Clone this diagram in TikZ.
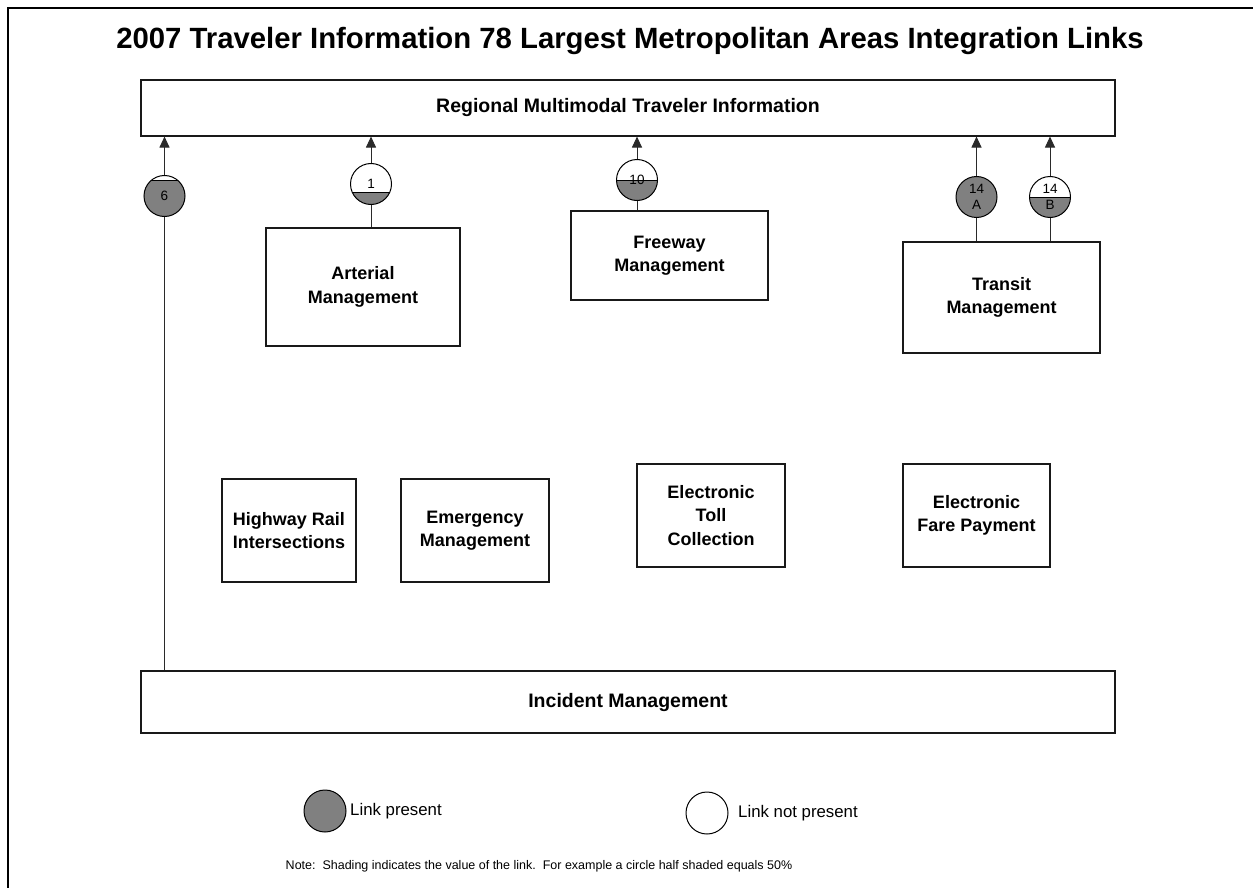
\documentclass[tikz,border=0pt]{standalone}
\usepackage{fontspec}
\setmainfont{Liberation Sans}
\usetikzlibrary{arrows.meta,calc}
\definecolor{linkgray}{HTML}{808080}
\definecolor{edge}{HTML}{2A2A2A}

% A link circle, shaded from the bottom up to the given fraction
% #1 name, #2 x, #3 y, #4 shaded fraction, #5 label
\newcommand\linkgauge[5]{%
  \begin{scope}
    \clip (#2,#3) circle (20.5);
    \fill[linkgray] (#2-22,{#3+20.5-41*#4}) rectangle (#2+22,#3+22);
    \draw[line width=0.9pt] (#2-22,{#3+20.5-41*#4}) -- (#2+22,{#3+20.5-41*#4});
  \end{scope}
  \node[gauge] (#1) at (#2,#3) {#5};
}

\begin{document}
\begin{tikzpicture}[x=1pt,y=-1pt,
  box/.style={draw=black!90, line width=1.1pt, fill=white, align=center,
    inner sep=0pt, font=\bfseries\fontsize{18}{23.5}\selectfont},
  wide/.style={box, minimum width=974, font=\bfseries\fontsize{19.5}{22}\selectfont},
  gauge/.style={circle, draw=black, line width=1pt, minimum size=41, inner sep=0pt,
    align=center, font=\fontsize{13.5}{16.5}\selectfont},
  link/.style={draw=edge, line width=1pt},
  arr/.style={link, -{Triangle[length=11pt,width=10pt]}},
  legendtxt/.style={anchor=west, inner sep=0pt, font=\fontsize{16.8}{19}\selectfont}]

\useasboundingbox (0,0) rectangle (1253,888);
\fill[white] (0,0) rectangle (1253,888);

% page frame
\draw[line width=2.2pt] (8,888) -- (8,8) -- (1253,8);

% title
\node[font=\bfseries\fontsize{29.3}{34}\selectfont] (title) at (630,41)
  {2007 Traveler Information 78 Largest Metropolitan Areas Integration Links};

% systems
\node[wide, minimum height=56] (reg) at (628,108) {Regional Multimodal Traveler Information};
\node[box, minimum width=194, minimum height=118] (art) at (363,287) {Arterial\\Management};
\node[box, minimum width=197, minimum height=89] (fw) at (669.5,255.5) {Freeway\\Management};
\node[box, minimum width=197, minimum height=111] (tr) at (1001.5,297.5) {Transit\\Management};
\node[box, minimum width=134, minimum height=103] (hri) at (289,530.5) {Highway Rail\\Intersections};
\node[box, minimum width=148, minimum height=103] (em) at (475,530.5) {Emergency\\Management};
\node[box, minimum width=148, minimum height=103] (etc) at (711,515.5) {Electronic\\Toll\\Collection};
\node[box, minimum width=147, minimum height=103] (efp) at (976.5,515.5) {Electronic\\Fare Payment};
\node[wide, minimum height=62] (inc) at (628,702) {Incident Management};

% integration links
\linkgauge{c6}{164.5}{196}{0.88}{6}
\linkgauge{c1}{371}{184}{0.3}{1}
\linkgauge{c10}{637}{180}{0.5}{10}
\linkgauge{c14a}{976.5}{197}{1}{14\\A}
\linkgauge{c14b}{1050}{197}{0.5}{14\\B}

\draw[arr] (c6.north) -- (c6.north |- reg.south);
\draw[link] (c6.south) -- (c6.south |- inc.north);
\draw[arr] (c1.north) -- (c1.north |- reg.south);
\draw[link] (c1.south) -- (c1.south |- art.north);
\draw[arr] (c10.north) -- (c10.north |- reg.south);
\draw[link] (c10.south) -- (c10.south |- fw.north);
\draw[arr] (c14a.north) -- (c14a.north |- reg.south);
\draw[link] (c14a.south) -- (c14a.south |- tr.north);
\draw[arr] (c14b.north) -- (c14b.north |- reg.south);
\draw[link] (c14b.south) -- (c14b.south |- tr.north);

% legend
\node[gauge, fill=linkgray, minimum size=42] (lp) at (325,811) {};
\node[legendtxt] (lptxt) at (350,811) {Link present};
\node[gauge, minimum size=42] (lnp) at (707,813) {};
\node[legendtxt] (lnptxt) at (738,813) {Link not present};
\node[font=\fontsize{12.5}{15}\selectfont] (note) at (539,866)
  {Note:~~Shading indicates the value of the link.~~For example a circle half shaded equals 50\%};

\end{tikzpicture}
\end{document}
